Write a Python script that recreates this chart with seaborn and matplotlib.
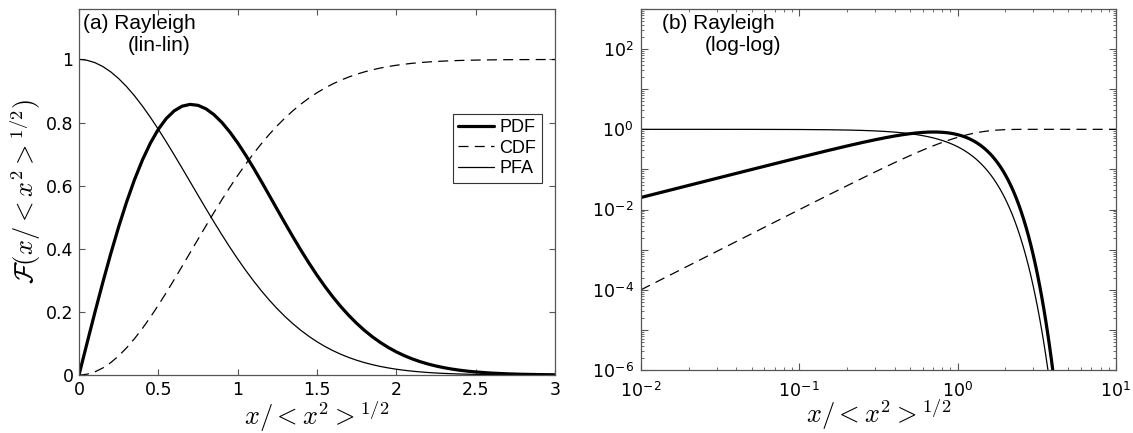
import numpy as np
import pandas as pd
import matplotlib
matplotlib.use("Agg")
import matplotlib.pyplot as plt
from matplotlib.ticker import LogLocator, FixedLocator, NullFormatter, FuncFormatter
import seaborn as sns

# Normalised amplitude x / <x^2>^(1/2)
x = [0, 0.01, 0.02, 0.05, 0.1, 0.15, 0.2, 0.25, 0.3, 0.35, 0.4, 0.45, 0.5,
     0.55, 0.6, 0.65, 0.7, 0.75, 0.8, 0.85, 0.9, 0.95, 1.0, 1.05, 1.1, 1.15,
     1.2, 1.25, 1.3, 1.35, 1.4, 1.45, 1.5, 1.55, 1.6, 1.65, 1.7, 1.75, 1.8,
     1.85, 1.9, 1.95, 2.0, 2.05, 2.1, 2.15, 2.2, 2.25, 2.3, 2.35, 2.4, 2.45,
     2.5, 2.6, 2.7, 2.8, 2.9, 3.0, 3.1, 3.2, 3.3, 3.4, 3.5, 3.6, 3.7, 3.8,
     3.9, 4.0, 4.1, 5.0, 7.0, 10.0]

# Rayleigh probability density
pdf = [0.0, 0.019998, 0.039984, 0.099750, 0.198010, 0.293325, 0.384316,
       0.469707, 0.548359, 0.619294, 0.681715, 0.735017, 0.778801, 0.812865,
       0.837211, 0.852028, 0.857676, 0.854675, 0.843667, 0.825413, 0.800744,
       0.770555, 0.735759, 0.697284, 0.656033, 0.612879, 0.568627, 0.524028,
       0.479752, 0.436377, 0.394402, 0.354235, 0.316197, 0.280522, 0.247376,
       0.216846, 0.188958, 0.163699, 0.140990, 0.120735, 0.102798, 0.087029,
       0.073264, 0.061332, 0.051051, 0.042260, 0.034791, 0.028485, 0.023193,
       0.018781, 0.015125, 0.012118, 0.009653, 0.006027, 0.003683, 0.002206,
       0.001293, 7.405e-4, 4.157e-4, 2.285e-4, 1.230e-4, 6.487e-5, 3.350e-5,
       1.694e-5, 8.389e-6, 4.070e-6, 1.934e-6, 9.000e-7, 4.105e-7, 1.389e-10,
       7.3e-21, 7.4e-43]

# Cumulative distribution
cdf = [0.0, 0.0001, 0.0004, 0.002497, 0.009950, 0.022249, 0.039211, 0.060587,
       0.086069, 0.115294, 0.147856, 0.183314, 0.221199, 0.261032, 0.302324,
       0.344594, 0.387374, 0.430217, 0.472708, 0.514463, 0.555142, 0.594445,
       0.632121, 0.667960, 0.701803, 0.733531, 0.763072, 0.790389, 0.815480,
       0.838379, 0.859142, 0.877850, 0.894601, 0.909509, 0.922695, 0.934289,
       0.944424, 0.953229, 0.960836, 0.967369, 0.972948, 0.977685, 0.981684,
       0.985041, 0.987845, 0.990172, 0.992093, 0.993670, 0.994958, 0.996004,
       0.996849, 0.997527, 0.998070, 0.998841, 0.999318, 0.999606, 0.999777,
       0.999877, 0.999933, 0.999964, 0.999981, 0.999990, 0.999995, 0.999998,
       0.999999, 1.0, 1.0, 1.0, 1.0, 1.0, 1.0, 1.0]

# Probability of exceedance
pfa = [1.0, 0.9999, 0.9996, 0.997503, 0.990050, 0.977751, 0.960789, 0.939413,
       0.913931, 0.884706, 0.852144, 0.816686, 0.778801, 0.738968, 0.697676,
       0.655406, 0.612626, 0.569783, 0.527292, 0.485537, 0.444858, 0.405555,
       0.367879, 0.332040, 0.298197, 0.266469, 0.236928, 0.209611, 0.184520,
       0.161621, 0.140858, 0.122150, 0.105399, 0.090491, 0.077305, 0.065711,
       0.055576, 0.046771, 0.039164, 0.032631, 0.027052, 0.022315, 0.018316,
       0.014959, 0.012155, 0.009828, 0.007907, 0.006330, 0.005042, 0.003996,
       0.003151, 0.002473, 0.001930, 0.001159, 0.000682, 0.000394, 0.000223,
       1.234e-4, 6.705e-5, 3.571e-5, 1.864e-5, 9.540e-6, 4.785e-6, 2.353e-6,
       1.134e-6, 5.355e-7, 2.480e-7, 1.125e-7, 5.006e-8, 1.389e-11, 5.2e-22,
       3.7e-44]

series_names = ["PDF", "CDF", "PFA"]

df = pd.DataFrame({"x": x, "PDF": pdf, "CDF": cdf, "PFA": pfa})
df_pos = df[df["x"] > 0]

sns.set_style("ticks")
plt.rcParams["font.family"] = ["DejaVu Sans"]
plt.rcParams["mathtext.fontset"] = "cm"
plt.rcParams["text.color"] = "black"
plt.rcParams["axes.labelcolor"] = "black"
plt.rcParams["xtick.labelcolor"] = "black"
plt.rcParams["ytick.labelcolor"] = "black"

styles = {
    "PDF": dict(color="black", linewidth=2.3, linestyle="-"),
    "CDF": dict(color="black", linewidth=0.9, linestyle=(0, (8, 5))),
    "PFA": dict(color="black", linewidth=0.9, linestyle="-"),
}

fig = plt.figure(figsize=(11.33, 4.33), dpi=100)
W, H = 1133, 433
axL = fig.add_axes([79 / W, 1 - 375 / H, (555 - 79) / W, (375 - 9) / H])
axR = fig.add_axes([641 / W, 1 - 370 / H, (1116 - 641) / W, (370 - 9) / H])

spine_col = "#555555"
tick_font = 12.5
label_font = 19
xlabel = r"$x/<x^2>^{1/2}$"

# ---- (a) linear axes ----
for name in series_names:
    sns.lineplot(data=df, x="x", y=name, ax=axL, label=name, legend=False,
                 sort=False, estimator=None, **styles[name])
axL.set_xlim(0, 3)
axL.set_ylim(0, 1.16)
axL.set_xticks([0, 0.5, 1, 1.5, 2, 2.5, 3])
axL.set_xticklabels(["0", "0.5", "1", "1.5", "2", "2.5", "3"])
axL.set_yticks([0, 0.2, 0.4, 0.6, 0.8, 1])
axL.set_yticklabels(["0", "0.2", "0.4", "0.6", "0.8", "1"])
axL.tick_params(direction="in", top=True, right=True, length=4, width=0.8,
                color=spine_col, labelcolor="black", labelsize=tick_font, pad=4)
axL.set_xlabel(xlabel, fontsize=label_font, labelpad=0)
axL.set_ylabel(r"$\mathcal{F}(x/<x^2>^{1/2})$", fontsize=label_font, labelpad=2)
axL.text(0.008, 0.985, "(a) Rayleigh", transform=axL.transAxes, ha="left",
         va="top", fontsize=15, family="Liberation Sans", color="black")
axL.text(0.103, 0.925, "(lin-lin)", transform=axL.transAxes, ha="left",
         va="top", fontsize=15, family="Liberation Sans", color="black")
leg = axL.legend(loc="center left", bbox_to_anchor=(0.785, 0.62),
                 fontsize=13, frameon=True, fancybox=False, framealpha=1,
                 edgecolor="#333333", borderpad=0.3, labelspacing=0.2,
                 handlelength=2.0, handletextpad=0.3, borderaxespad=0)
leg.get_frame().set_linewidth(0.8)
for t in leg.get_texts():
    t.set_family("Liberation Sans")
    t.set_color("black")

# ---- (b) logarithmic axes ----
axR.set_xscale("log")
axR.set_yscale("log")
for name in series_names:
    sns.lineplot(data=df_pos, x="x", y=name, ax=axR, legend=False,
                 sort=False, estimator=None, **styles[name])
axR.set_xlim(1e-2, 1e1)
axR.set_ylim(1e-6, 1e3)
axR.xaxis.set_major_locator(FixedLocator([1e-2, 1e-1, 1e0, 1e1]))
axR.xaxis.set_minor_locator(LogLocator(base=10, subs=np.arange(2, 10), numticks=20))
axR.xaxis.set_minor_formatter(NullFormatter())
axR.yaxis.set_major_locator(FixedLocator([10.0 ** e for e in range(-6, 4)]))
axR.yaxis.set_minor_locator(LogLocator(base=10, subs=np.arange(2, 10), numticks=20))
axR.yaxis.set_minor_formatter(NullFormatter())


def pow_label(v, pos):
    e = int(round(np.log10(v)))
    return r"10$^{\mathregular{%d}}$" % e


def pow_label_even(v, pos):
    e = int(round(np.log10(v)))
    if e % 2 != 0 or e > 2:
        return ""
    return r"10$^{\mathregular{%d}}$" % e


axR.xaxis.set_major_formatter(FuncFormatter(pow_label))
axR.yaxis.set_major_formatter(FuncFormatter(pow_label_even))
axR.tick_params(which="major", direction="in", top=True, right=True, length=5,
                width=0.8, color=spine_col, labelcolor="black",
                labelsize=tick_font, pad=5)
axR.tick_params(axis="x", which="major", pad=8)
axR.tick_params(which="minor", direction="in", top=True, right=True, length=2.5,
                width=0.6, color=spine_col)
axR.set_xlabel(xlabel, fontsize=label_font, labelpad=-3)
axR.set_ylabel("")
axR.text(0.045, 0.985, "(b) Rayleigh", transform=axR.transAxes, ha="left",
         va="top", fontsize=15, family="Liberation Sans", color="black")
axR.text(0.135, 0.925, "(log-log)", transform=axR.transAxes, ha="left",
         va="top", fontsize=15, family="Liberation Sans", color="black")

for ax in (axL, axR):
    for s in ax.spines.values():
        s.set_color(spine_col)
        s.set_linewidth(0.9)
    ax.set_facecolor("white")

fig.savefig("out.png", dpi=100, facecolor="white")
